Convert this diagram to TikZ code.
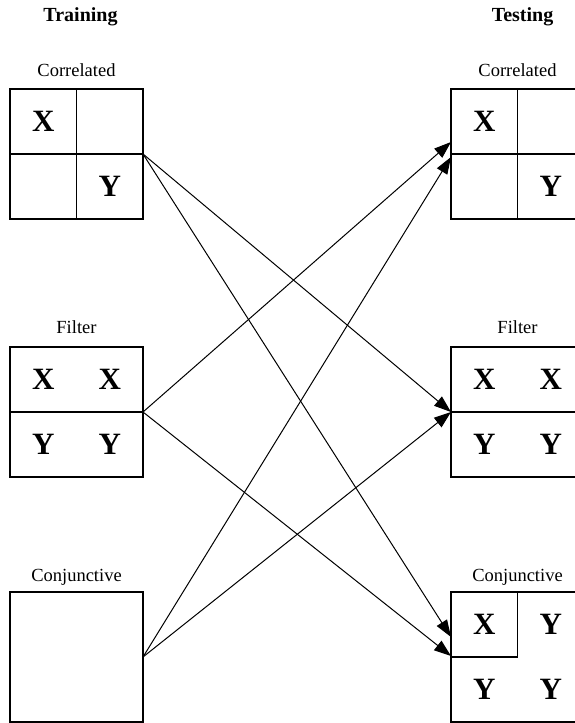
\documentclass[tikz,border=0pt]{standalone}
\usepackage{fontspec}
\setmainfont{Liberation Serif}
\usetikzlibrary{positioning,calc,arrows.meta}
\newcommand{\lw}{1.3pt}

\begin{document}
\begin{tikzpicture}[auto,node distance=128pt,
  box/.style={draw,line width=\lw,minimum width=133pt,minimum height=130pt,inner sep=0pt,outer sep=0pt},
  lbl/.style={font=\fontsize{18.5}{18.5}\selectfont,inner sep=0pt},
  hdr/.style={font=\fontsize{20}{20}\selectfont\bfseries,inner sep=0pt},
  ltr/.style={font=\fontsize{31}{31}\selectfont\bfseries,inner sep=0pt}]
\useasboundingbox (0,0) rectangle (575pt,-723pt);
\node[box] at (76.5pt,-154pt)   (corL) {};
\node[box,below=of corL]        (filL) {};
\node[box,below=115pt of filL]  (conL) {};
\node[box,right=308pt of corL]  (corR) {};
\node[box,right=308pt of filL]  (filR) {};
\node[box,right=308pt of conL]  (conR) {};
%
\node[hdr,above=68pt of corL.north,anchor=base,xshift=4pt] {Training};
\node[hdr,above=68pt of corR.north,anchor=base,xshift=5pt] {Testing};
\node[lbl,above=13pt of corL.north,anchor=base] {Correlated};
\node[lbl,above=13pt of corR.north,anchor=base] {Correlated};
\node[lbl,above=14pt of filL.north,anchor=base] {Filter};
\node[lbl,above=14pt of filR.north,anchor=base] {Filter};
\node[lbl,above=11pt of conL.north,anchor=base] {Conjunctive};
\node[lbl,above=11pt of conR.north,anchor=base] {Conjunctive};
%
\draw[line width=\lw] (corL.north) -- (corL.south) (corL.west) -- (corL.east);
\draw[line width=\lw] (corR.north) -- (corR.south) (corR.west) -- (corR.east);
\draw[line width=\lw] (filL.west) -- (filL.east);
\draw[line width=\lw] (filR.west) -- (filR.east);
\draw[line width=\lw] (conR.north) -- (conR.center) -- (conR.west);
%
\node[ltr] at ($(corL.center)!.5!(corL.north west)$) {X};
\node[ltr] at ($(corL.center)!.5!(corL.south east)$) {Y};
\node[ltr] at ($(corR.center)!.5!(corR.north west)$) {X};
\node[ltr] at ($(corR.center)!.5!(corR.south east)$) {Y};
\node[ltr] at ($(filL.center)!.5!(filL.north west)$) {X};
\node[ltr] at ($(filL.center)!.5!(filL.north east)$) {X};
\node[ltr] at ($(filL.center)!.5!(filL.south west)$) {Y};
\node[ltr] at ($(filL.center)!.5!(filL.south east)$) {Y};
\node[ltr] at ($(filR.center)!.5!(filR.north west)$) {X};
\node[ltr] at ($(filR.center)!.5!(filR.north east)$) {X};
\node[ltr] at ($(filR.center)!.5!(filR.south west)$) {Y};
\node[ltr] at ($(filR.center)!.5!(filR.south east)$) {Y};
\node[ltr] at ($(conR.center)!.5!(conR.north west)$) {X};
\node[ltr] at ($(conR.center)!.5!(conR.north east)$) {Y};
\node[ltr] at ($(conR.center)!.5!(conR.south west)$) {Y};
\node[ltr] at ($(conR.center)!.5!(conR.south east)$) {Y};
%
\path[-{Triangle[length=17pt,width=12pt]},line width=1pt]
	(corL.east) edge (filR.west)
	(corL.east) edge ($(conR.west)+(0,20pt)$)
	(filL.east) edge ($(corR.west)+(0,12pt)$)
	(filL.east) edge ($(conR.west)+(0,1pt)$)
	(conL.east) edge ($(corR.west)+(0,-3pt)$)
	(conL.east) edge (filR.west)
; %-arrows-%
\end{tikzpicture}
\end{document}
